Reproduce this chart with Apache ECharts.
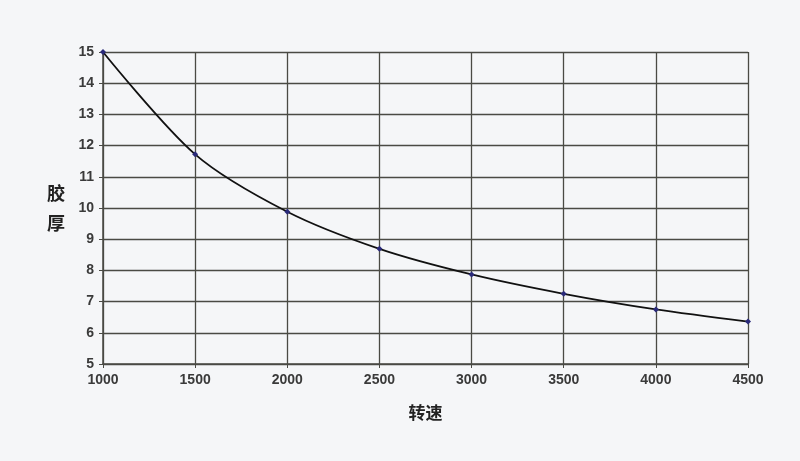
<!DOCTYPE html>
<html>
<head>
<meta charset="utf-8">
<script src="https://cdn.jsdelivr.net/npm/echarts@6/dist/echarts.min.js"></script>
<style>
html,body{margin:0;padding:0;background:#f5f6f8;}
#c{width:800px;height:461px;}
</style>
</head>
<body>
<div id="c"></div>
<script>
var speeds = [1000, 1500, 2000, 2500, 3000, 3500, 4000, 4500];
var thickness = [15, 11.72, 9.88, 8.69, 7.87, 7.25, 6.75, 6.36];
var xTitle = '转速';
var yTitle = '胶\n厚';

var chart = echarts.init(document.getElementById('c'));
var lineColor = '#4a4a44';
var labelStyle = {fontFamily: 'Liberation Sans, Arial', fontSize: 14, fontWeight: 'bold', color: '#3a3a3a', margin: 9};
chart.setOption({
  backgroundColor: '#f5f6f8',
  animation: false,
  grid: {left: 103, right: 52, top: 52, bottom: 97},
  xAxis: {
    type: 'value', min: 1000, max: 4500, interval: 500,
    name: xTitle, nameLocation: 'middle', nameGap: 40, nameMoveOverlap: false,
    nameTextStyle: {fontFamily: 'Noto Sans CJK SC', fontWeight: 'bold', fontSize: 17, color: '#222'},
    axisLine: {show: true, lineStyle: {color: lineColor, width: 1.5}},
    axisTick: {show: true, length: 4, lineStyle: {color: lineColor}},
    axisLabel: Object.assign({formatter: function(v){ return String(v); }}, labelStyle),
    splitLine: {show: true, lineStyle: {color: lineColor, width: 1.3}}
  },
  yAxis: {
    type: 'value', min: 5, max: 15, interval: 1,
    name: yTitle, nameLocation: 'middle', nameGap: 38, nameRotate: 0, nameMoveOverlap: false,
    nameTextStyle: {fontFamily: 'Noto Sans CJK SC', fontWeight: 'bold', fontSize: 18, color: '#222', lineHeight: 30},
    axisLine: {show: true, lineStyle: {color: lineColor, width: 1.5}},
    axisTick: {show: true, length: 4, lineStyle: {color: lineColor}},
    axisLabel: labelStyle,
    splitLine: {show: true, lineStyle: {color: lineColor, width: 1.3}}
  },
  series: [{
    type: 'line',
    data: speeds.map(function(s, i){ return [s, thickness[i]]; }),
    smooth: 0.3,
    symbol: 'diamond',
    symbolSize: 6,
    itemStyle: {color: '#2a2a7a'},
    lineStyle: {color: '#111', width: 1.8},
    z: 5
  }]
});
</script>
</body>
</html>
